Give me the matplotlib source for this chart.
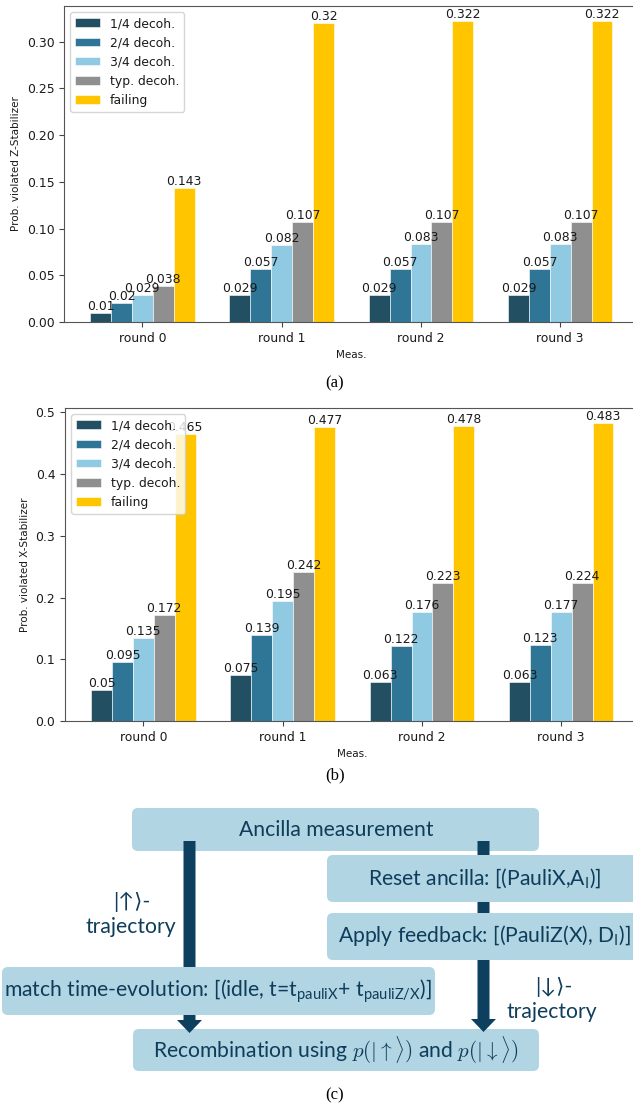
import matplotlib
matplotlib.use("Agg")
import matplotlib.pyplot as plt
import numpy as np
from matplotlib.patches import FancyBboxPatch, FancyArrow

# --- datos ---------------------------------------------------------------
rounds = ["round 0", "round 1", "round 2", "round 3"]
series = ["1/4 decoh.", "2/4 decoh.", "3/4 decoh.", "typ. decoh.", "failing"]
colors = ["#234f63", "#2e7596", "#90c9e2", "#8f8f8f", "#ffc600"]

z_quarter = [0.01, 0.029, 0.029, 0.029]
z_half = [0.02, 0.057, 0.057, 0.057]
z_three = [0.029, 0.082, 0.083, 0.083]
z_typ = [0.038, 0.107, 0.107, 0.107]
z_fail = [0.143, 0.32, 0.322, 0.322]

x_quarter = [0.05, 0.075, 0.063, 0.063]
x_half = [0.095, 0.139, 0.122, 0.123]
x_three = [0.135, 0.195, 0.176, 0.177]
x_typ = [0.172, 0.242, 0.223, 0.224]
x_fail = [0.465, 0.477, 0.478, 0.483]

W, H = 633, 1109
fig = plt.figure(figsize=(W / 100, H / 100), dpi=100)

FS = 8.9
TXT = "#0e3d5b"
BOX = "#b1d5e3"


def barras(ax, valores, ylabel):
    pos = np.arange(len(rounds))
    width = 0.15
    for i, (nombre, vals) in enumerate(zip(series, valores)):
        b = ax.bar(pos + (i - 2) * width, vals, width, label=nombre,
                   color=colors[i], edgecolor="white", linewidth=0.4)
        ax.bar_label(b, fontsize=FS, color="#1a1a1a")
    ax.set_xticks(pos, rounds)
    ax.tick_params(labelsize=FS, color="#444444", labelcolor="#1a1a1a")
    for sp in ax.spines.values():
        sp.set_color("#555555")
    ax.set_xlabel("Meas.", fontsize=7.5, color="#1a1a1a")
    ax.set_ylabel(ylabel, fontsize=7.5, color="#1a1a1a")
    ax.legend(loc="upper left", fontsize=FS, labelcolor="#1a1a1a")


def px_axes(left, top, right, bottom):
    return fig.add_axes([left / W, 1 - bottom / H, (right - left) / W, (bottom - top) / H])


ax1 = px_axes(64, 6, 638.6, 322)
barras(ax1, [z_quarter, z_half, z_three, z_typ, z_fail], "Prob. violated Z-Stabilizer")
ax2 = px_axes(65, 408, 639.6, 721)
barras(ax2, [x_quarter, x_half, x_three, x_typ, x_fail], "Prob. violated X-Stabilizer")

for lab, y in [("(a)", 383), ("(b)", 775), ("(c)", 1095)]:
    fig.text(335 / W, 1 - y / H, lab, ha="center", va="center",
             family="Liberation Serif", fontsize=12)

# --- diagrama (c) en coordenadas de pixel --------------------------------
axd = fig.add_axes([0, 0, 1, 319 / H])
axd.set_xlim(0, W)
axd.set_ylim(H, 790)
axd.axis("off")


def caja(x0, y0, x1, y1, z=2):
    axd.add_patch(FancyBboxPatch((x0, y0), x1 - x0, y1 - y0,
                                 boxstyle="round,pad=0,rounding_size=6",
                                 fc=BOX, ec="none", zorder=z))


caja(132, 808, 539, 851, z=1)
caja(327, 855, 660, 902, z=3)
caja(327, 913, 660, 960, z=3)
caja(2, 967, 435, 1015, z=3)
caja(133, 1029, 539, 1071, z=1)

for xa, y0, y1 in [(189.5, 841, 1033), (483.5, 841, 1032)]:
    axd.add_patch(FancyArrow(xa, y0, 0, y1 - y0, width=12, head_width=25,
                             head_length=13, length_includes_head=True,
                             color="#0d3f5e", lw=0, zorder=2))

fam = ["Lato", "DejaVu Sans"]
kw = dict(color=TXT, fontsize=15.2, va="center", zorder=5, family=fam)
axd.text(336, 830, "Ancilla measurement", ha="center", **kw)
axd.text(485, 879, r"Reset ancilla: [(PauliX,A$_\mathregular{I}$)]", ha="center", **kw)
axd.text(338, 936, r"Apply feedback: [(PauliZ(X), D$_\mathregular{I}$)]", ha="left", **kw)
axd.text(218, 991, r"match time-evolution: [(idle, t=t$_\mathregular{pauliX}$+ t$_\mathregular{pauliZ/X}$)]",
         ha="center", **kw)
axd.text(336, 1050, r"Recombination using $p(|\uparrow\rangle)$ and $p(|\downarrow\rangle)$",
         ha="center", math_fontfamily="cm", **kw)
axd.text(132, 902, "|↑⟩-", ha="center", **kw)
axd.text(131, 927, "trajectory", ha="center", **kw)
axd.text(554, 987, "|↓⟩-", ha="center", **kw)
axd.text(552, 1012, "trajectory", ha="center", **kw)

fig.savefig("out.png", dpi=100)
